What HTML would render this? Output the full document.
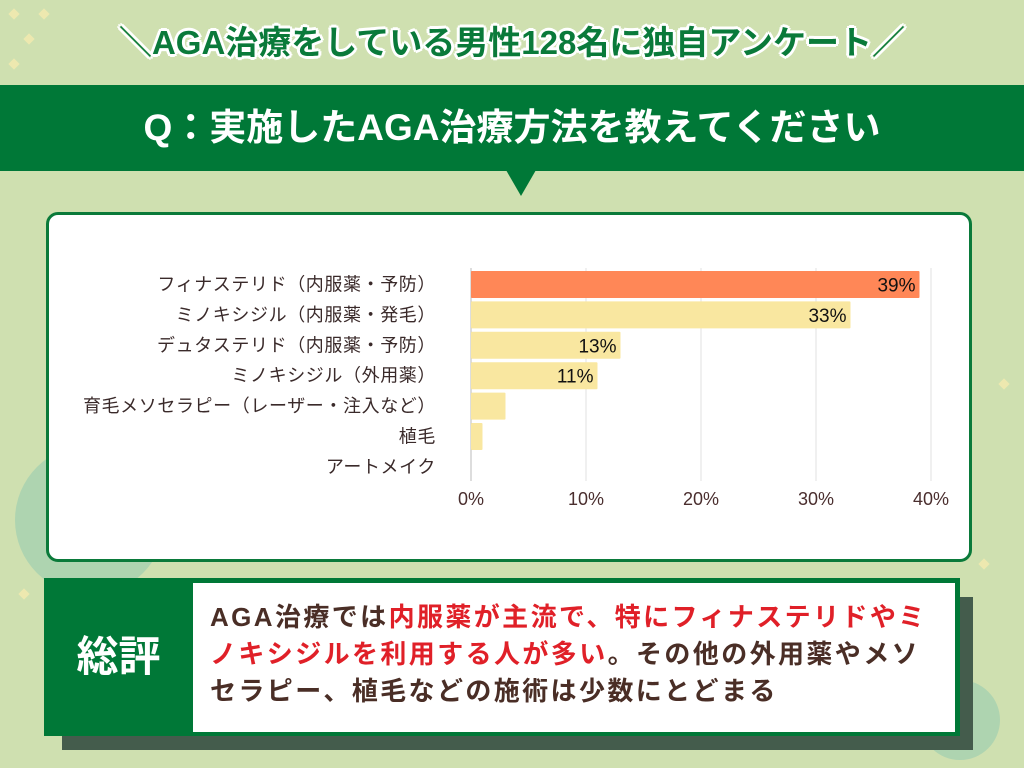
<!DOCTYPE html>
<html><head><meta charset="utf-8"><style>
body{margin:0;width:1024px;height:768px;overflow:hidden;background:#cfe0b0;font-family:"Liberation Sans","Noto Sans CJK JP",sans-serif;position:relative}
.abs{position:absolute}
</style></head><body>
<svg class="abs" style="left:0;top:0" width="1024" height="768">
<circle cx="90" cy="520" r="75" fill="#9fcfb0" opacity="0.7"/>
<circle cx="960" cy="720" r="40" fill="#9fcfb0" opacity="0.7"/>
<g fill="#f4eab0" opacity="0.8">
<rect x="10" y="10" width="8" height="8" transform="rotate(45 14 14)"/>
<rect x="40" y="10" width="8" height="8" transform="rotate(45 44 14)"/>
<rect x="25" y="35" width="8" height="8" transform="rotate(45 29 39)"/>
<rect x="10" y="60" width="8" height="8" transform="rotate(45 14 64)"/>
<rect x="980" y="560" width="8" height="8" transform="rotate(45 984 564)"/>
<rect x="1000" y="380" width="8" height="8" transform="rotate(45 1004 384)"/>
<rect x="20" y="590" width="8" height="8" transform="rotate(45 24 594)"/>
</g>
</svg>
<div class="abs" style="left:0;top:16px;width:1024px;text-align:center;font-size:33px;font-weight:bold;color:#0a7a3a;white-space:nowrap;text-shadow:2px 2px 0 #fff,-2px -2px 0 #fff,2px -2px 0 #fff,-2px 2px 0 #fff,0 3px 0 #fff,3px 0 0 #fff,0 -3px 0 #fff,-3px 0 0 #fff">＼AGA治療をしている男性128名に独自アンケート／</div>
<div class="abs" style="left:0;top:85px;width:1024px;height:86px;background:#007837;color:#fff;font-size:37px;font-weight:bold;text-align:center;line-height:86px;white-space:nowrap">Q：実施したAGA治療方法を教えてください</div>
<div class="abs" style="left:506px;top:170px;width:0;height:0;border-left:15px solid transparent;border-right:15px solid transparent;border-top:26px solid #007837"></div>
<div class="abs" style="left:46px;top:212px;width:920px;height:344px;background:#fff;border:3px solid #0a7a3a;border-radius:12px"></div>
<svg class="abs" id="chart" style="left:0;top:0" width="1024" height="768"></svg>
<div class="abs" style="left:62px;top:597px;width:911px;height:153px;background:#445c4c"></div>
<div class="abs" style="left:44px;top:578px;width:916px;height:158px;background:#007837"></div>
<div class="abs" style="left:44px;top:578px;width:149px;height:158px;color:#fff;font-size:42px;font-weight:bold;text-align:center;line-height:158px">総評</div>
<div class="abs" style="left:193px;top:583px;width:762px;height:149px;background:#fff;box-sizing:border-box;padding:16px 0 0 17px;font-size:26px;font-weight:bold;line-height:37px;color:#4a2e26;white-space:nowrap;letter-spacing:2.4px">AGA治療では<span style="color:#e02028">内服薬が主流で、特にフィナステリドやミ<br>ノキシジルを利用する人が多い</span>。その他の外用薬やメソ<br>セラピー、植毛などの施術は少数にとどまる</div>
<script>
const categories=["フィナステリド（内服薬・予防）","ミノキシジル（内服薬・発毛）","デュタステリド（内服薬・予防）","ミノキシジル（外用薬）","育毛メソセラピー（レーザー・注入など）","植毛","アートメイク"];
const values=[39,33,13,11,3,1,0];
const valueLabels=["39%","33%","13%","11%","","",""];
const ticks=[0,10,20,30,40];
const svg=document.getElementById('chart');
const NS='http://www.w3.org/2000/svg';
const x0=471,pxPer=11.5,y0=271,pitch=30.4,bh=27;
const xs=v=>x0+v*pxPer;
const ys=i=>y0+i*pitch;
function mk(t,a){const e=document.createElementNS(NS,t);for(const k in a)e.setAttribute(k,a[k]);svg.appendChild(e);return e;}
ticks.forEach(t=>{
 const l=mk('line',{x1:xs(t),x2:xs(t),y1:268,y2:481,stroke:t===0?'#bbb':'#e2e2e2','stroke-width':1});
 
 
 const tx=mk('text',{x:xs(t),y:505,'text-anchor':'middle','font-size':18,fill:'#4a2e2e'});
 tx.textContent=t+'%';
 
 
});
categories.forEach((c,i)=>{
 const y=ys(i);
 const lb=mk('text',{x:436,y:y+bh/2+6,'text-anchor':'end','font-size':18,fill:'#3a2a2a','letter-spacing':'0.6'});
 lb.textContent=c;
 
 
 if(values[i]>0){
  const r=mk('rect',{x:x0,y:y,width:xs(values[i])-x0,height:bh,fill:i===0?'#ff8757':'#f9e7a0',rx:1});
  
  
 }
 if(valueLabels[i]){
  const v=mk('text',{x:xs(values[i])-4,y:y+bh/2+7,'text-anchor':'end','font-size':19,fill:'#111'});
  v.textContent=valueLabels[i];
  
  
 }
});
</script>
</body></html>
